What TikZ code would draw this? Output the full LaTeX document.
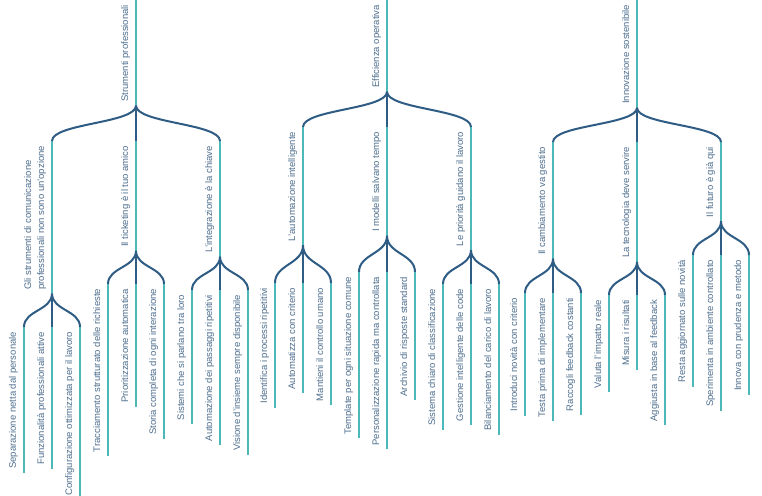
\documentclass[tikz,border=0pt]{standalone}
\usepackage{fontspec}
\setmainfont{Liberation Sans}
\usetikzlibrary{calc}
\definecolor{txt}{HTML}{4F6F8F}
\definecolor{lnk}{HTML}{2E5C84}
\definecolor{tl}{HTML}{4DB8B8}
\tikzset{
  lbl/.style={rotate=90, inner sep=0pt, outer sep=0pt, text=txt, font=\fontsize{9.5}{13}\selectfont},
  tealline/.style={draw=tl, line width=2pt},
  darkline/.style={draw=lnk, line width=2pt},
}
% name, x, top, text
\newcommand\mmnode[4]{%
  \coordinate (#1t) at (#2,#3);
  \node[lbl, anchor=base east] (#1) at (#2-8,#3+5) {#4};
  \draw[tealline] (#1t) -- ($(#1t |- #1.west)+(0,4)$) coordinate (#1b);
}
\newcommand\mmlink[2]{%
  \path ($(#1b)!0.5!(#2t)$) coordinate (mm);
  \draw[darkline] (#1b) .. controls (#1b |- mm) and (#2t |- mm) .. (#2t);
}
\begin{document}
\begin{tikzpicture}[x=1pt,y=-1pt]
\fill[white] (0,0) rectangle (762,495);
\useasboundingbox (0,0) rectangle (762,495);

% Tree 1
\mmnode{Ra}{136}{0}{Strumenti professionali}
\coordinate (Cat) at (52,141);
\node[lbl, anchor=south east, align=left] (Ca) at (46,146) {Gli strumenti di comunicazione\\professionali non sono un'opzione};
\draw[tealline] (Cat) -- ($(Cat |- Ca.west)+(0,4)$) coordinate (Cab);
\mmnode{Cb}{136}{141}{Il ticketing è il tuo amico}
\mmnode{Cc}{220}{141}{L'integrazione è la chiave}
\mmnode{Laa}{24}{327}{Separazione netta dal personale}
\mmnode{Lab}{52}{327}{Funzionalità professionali attive}
\mmnode{Lac}{80}{327}{Configurazione ottimizzata per il lavoro}
\mmnode{Lba}{108}{284}{Tracciamento strutturato delle richieste}
\mmnode{Lbb}{136}{284}{Prioritizzazione automatica}
\mmnode{Lbc}{164}{284}{Storia completa di ogni interazione}
\mmnode{Lca}{192}{290}{Sistemi che si parlano tra loro}
\mmnode{Lcb}{220}{290}{Automazione dei passaggi ripetitivi}
\mmnode{Lcc}{248}{290}{Visione d'insieme sempre disponibile}
\mmlink{Ra}{Ca}\mmlink{Ra}{Cb}\mmlink{Ra}{Cc}
\mmlink{Ca}{Laa}\mmlink{Ca}{Lab}\mmlink{Ca}{Lac}
\mmlink{Cb}{Lba}\mmlink{Cb}{Lbb}\mmlink{Cb}{Lbc}
\mmlink{Cc}{Lca}\mmlink{Cc}{Lcb}\mmlink{Cc}{Lcc}

% Tree 2
\mmnode{Rb}{387}{0}{Efficienza operativa}
\mmnode{Da}{303}{127}{L'automazione intelligente}
\mmnode{Db}{387}{127}{I modelli salvano tempo}
\mmnode{Dc}{471}{127}{Le priorità guidano il lavoro}
\mmnode{Maa}{275}{283}{Identifica i processi ripetitivi}
\mmnode{Mab}{303}{283}{Automatizza con criterio}
\mmnode{Mac}{331}{283}{Mantieni il controllo umano}
\mmnode{Mba}{359}{272}{Template per ogni situazione comune}
\mmnode{Mbb}{387}{272}{Personalizzazione rapida ma controllata}
\mmnode{Mbc}{415}{272}{Archivio di risposte standard}
\mmnode{Mca}{443}{284}{Sistema chiaro di classificazione}
\mmnode{Mcb}{471}{284}{Gestione intelligente delle code}
\mmnode{Mcc}{499}{284}{Bilanciamento del carico di lavoro}
\mmlink{Rb}{Da}\mmlink{Rb}{Db}\mmlink{Rb}{Dc}
\mmlink{Da}{Maa}\mmlink{Da}{Mab}\mmlink{Da}{Mac}
\mmlink{Db}{Mba}\mmlink{Db}{Mbb}\mmlink{Db}{Mbc}
\mmlink{Dc}{Mca}\mmlink{Dc}{Mcb}\mmlink{Dc}{Mcc}

% Tree 3
\mmnode{Rc}{637}{0}{Innovazione sostenibile}
\mmnode{Ea}{553}{142}{Il cambiamento va gestito}
\mmnode{Eb}{637}{142}{La tecnologia deve servire}
\mmnode{Ec}{721}{142}{Il futuro è già qui}
\mmnode{Naa}{525}{293}{Introduci novità con criterio}
\mmnode{Nab}{553}{293}{Testa prima di implementare}
\mmnode{Nac}{581}{293}{Raccogli feedback costanti}
\mmnode{Nba}{609}{295}{Valuta l'impatto reale}
\mmnode{Nbb}{637}{295}{Misura i risultati}
\mmnode{Nbc}{665}{295}{Aggiusta in base al feedback}
\mmnode{Nca}{693}{255}{Resta aggiornato sulle novità}
\mmnode{Ncb}{721}{255}{Sperimenta in ambiente controllato}
\mmnode{Ncc}{749}{255}{Innova con prudenza e metodo}
\mmlink{Rc}{Ea}\mmlink{Rc}{Eb}\mmlink{Rc}{Ec}
\mmlink{Ea}{Naa}\mmlink{Ea}{Nab}\mmlink{Ea}{Nac}
\mmlink{Eb}{Nba}\mmlink{Eb}{Nbb}\mmlink{Eb}{Nbc}
\mmlink{Ec}{Nca}\mmlink{Ec}{Ncb}\mmlink{Ec}{Ncc}
\end{tikzpicture}
\end{document}
